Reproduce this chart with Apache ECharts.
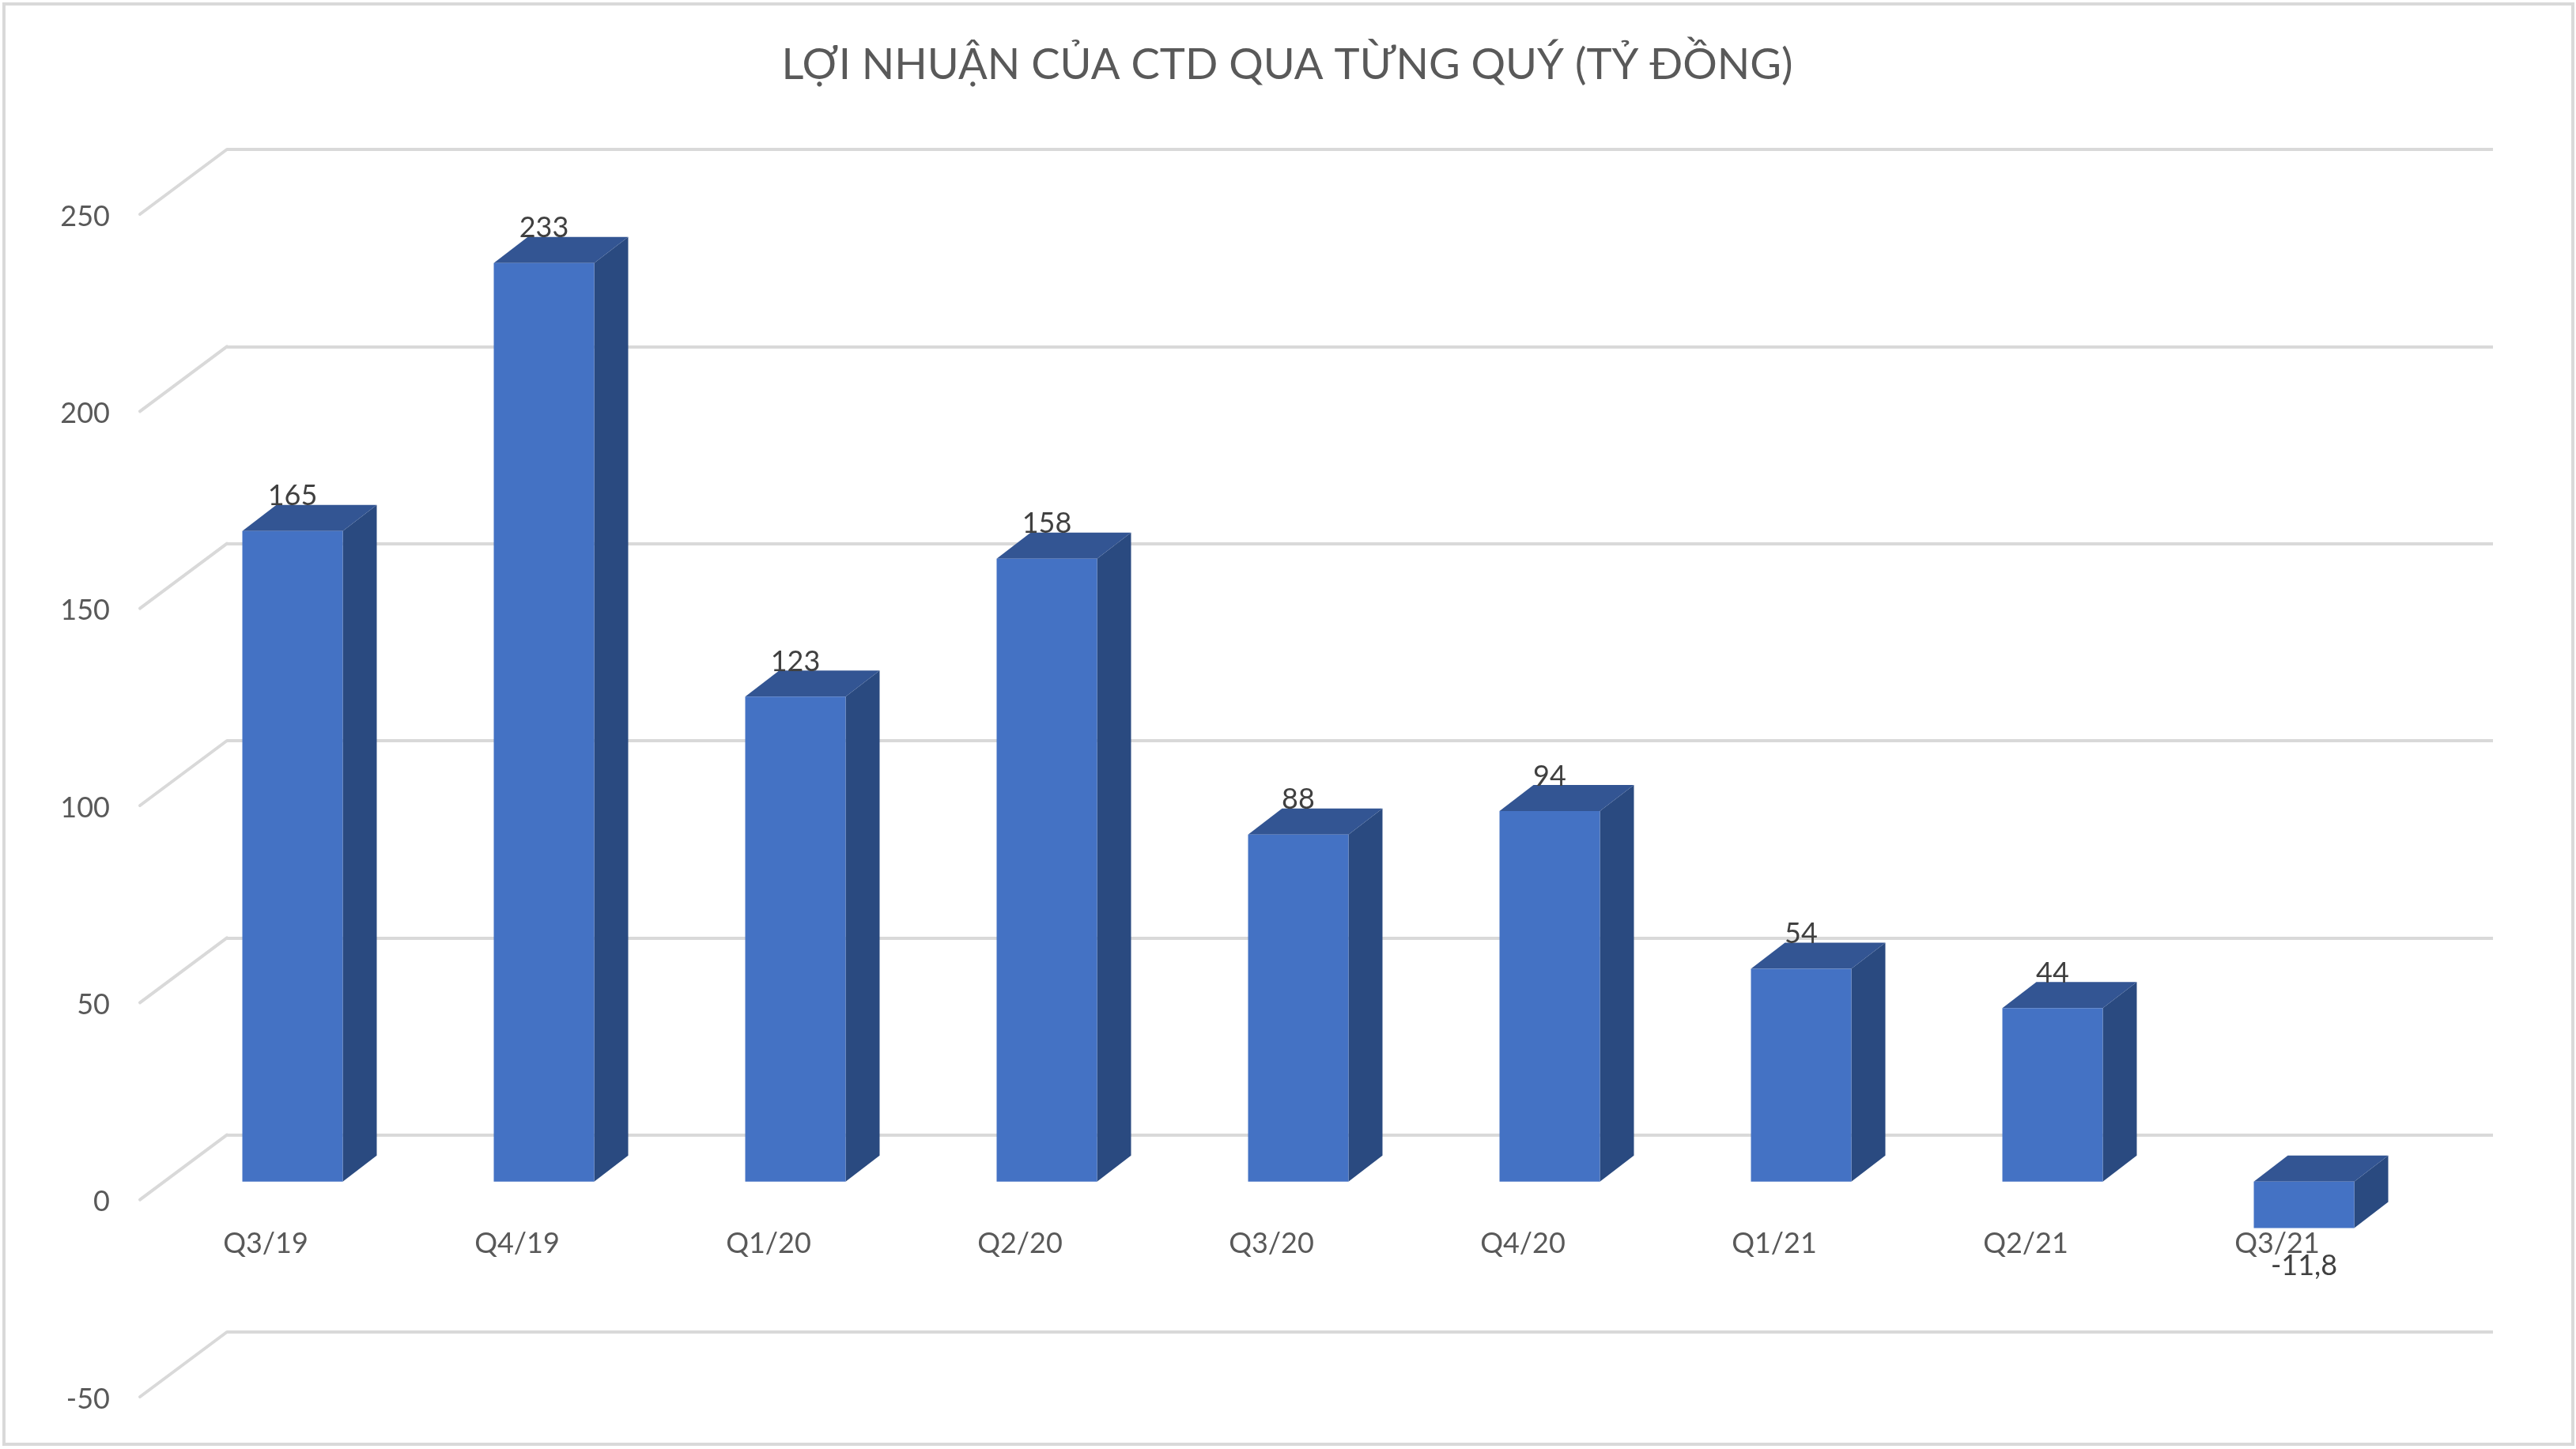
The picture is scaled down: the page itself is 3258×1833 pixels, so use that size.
<!DOCTYPE html>
<html>
<head>
<meta charset="utf-8">
<style>html,body{margin:0;padding:0;background:#fff}#c{width:3258px;height:1833px}</style>
<script src="https://cdn.jsdelivr.net/npm/echarts@6/dist/echarts.min.js"></script>
</head>
<body>
<div id="c"></div>
<script>
const categories = ['Q3/19','Q4/19','Q1/20','Q2/20','Q3/20','Q4/20','Q1/21','Q2/21','Q3/21'];
const profit = [165,233,123,158,88,94,54,44,-11.8];
const yTicks = [-50,0,50,100,150,200,250];
const titleText = 'LỢI NHUẬN CỦA CTD QUA TỪNG QUÝ (TỶ ĐỒNG)';

const FONT = 'Lato';
const WALL_DX = 110, WALL_DY = -82;      // front wall -> back wall
const BAR_DX = 34, BAR_DY = -23;         // front wall -> bar front face
const DEPTH_DX = 43, DEPTH_DY = -33;     // bar depth
const BAR_W = 127;
const GRID_LEFT = 177, GRID_W = 2862, BACK_W = 2866, GRID_TOP = 271, GRID_H = 1496;

const chart = echarts.init(document.getElementById('c'), null, {renderer:'canvas', width:3258, height:1833});

function renderBar(params, api){
  const idx = api.value(0), v = api.value(1);
  const p0 = api.coord([idx,0]), pv = api.coord([idx,v]);
  const cx = p0[0] + BAR_DX;
  const l = cx - BAR_W/2, r = cx + BAR_W/2;
  const top = Math.min(p0[1],pv[1]) + BAR_DY, bot = Math.max(p0[1],pv[1]) + BAR_DY;
  const dx = DEPTH_DX, dy = DEPTH_DY;
  const labelY = v >= 0 ? top - 44 : bot + 48;
  return {type:'group', children:[
    {type:'polygon', shape:{points:[[r,top],[r+dx,top+dy],[r+dx,bot+dy],[r,bot]]}, style:{fill:'#2A4A80'}},
    {type:'polygon', shape:{points:[[l,top],[l+dx,top+dy],[r+dx,top+dy],[r,top]]}, style:{fill:'#335593'}},
    {type:'rect', shape:{x:l,y:top,width:BAR_W,height:bot-top}, style:{fill:'#4472C4'}},
    {type:'text', z2:5, style:{x:cx,y:labelY,text:String(v).replace('.',','),fill:'#404040',
      font:'36px '+FONT,align:'center',verticalAlign:'middle'}}
  ]};
}
function renderDiag(params, api){
  const v = api.value(0);
  const x = params.coordSys.x, y = api.coord([0,v])[1];
  return {type:'line', shape:{x1:x,y1:y,x2:x+WALL_DX,y2:y+WALL_DY},
    style:{stroke:'#D9D9D9',lineWidth:4,lineCap:'round'}};
}

chart.setOption({
  animation:false,
  backgroundColor:'#fff',
  title:{text:titleText,left:1623,top:77,textAlign:'center',textVerticalAlign:'middle',
    textStyle:{fontFamily:FONT,fontSize:54.4,fontWeight:'normal',color:'#595959'}},
  graphic:[{type:'rect',silent:true,z:-1,shape:{x:5,y:5,width:3249,height:1822},
    style:{fill:'none',stroke:'#D9D9D9',lineWidth:4}}],
  grid:[
    {left:GRID_LEFT+WALL_DX,top:GRID_TOP+WALL_DY,width:BACK_W,height:GRID_H},
    {left:GRID_LEFT,top:GRID_TOP,width:GRID_W,height:GRID_H}
  ],
  xAxis:[
    {gridIndex:0,type:'category',data:categories,show:false},
    {gridIndex:1,type:'category',data:categories,position:'bottom',offset:-GRID_H/6,
      axisLine:{show:false,onZero:false},axisTick:{show:false},
      axisLabel:{margin:38,fontFamily:FONT,fontSize:36,color:'#595959',interval:0}}
  ],
  yAxis:[
    {gridIndex:0,type:'value',min:-50,max:250,interval:50,
      axisLabel:{show:false},axisLine:{show:false},axisTick:{show:false},
      splitLine:{show:true,lineStyle:{color:'#D9D9D9',width:4}}},
    {gridIndex:1,type:'value',min:-50,max:250,interval:50,
      axisLabel:{margin:38,fontFamily:FONT,fontSize:36,color:'#595959',verticalAlign:'top',lineHeight:6},
      axisLine:{show:false},axisTick:{show:false},splitLine:{show:false}}
  ],
  series:[
    {type:'custom',xAxisIndex:1,yAxisIndex:1,renderItem:renderDiag,data:yTicks.map(v=>[v]),
      encode:{y:0},clip:false,silent:true,z:1},
    {type:'custom',xAxisIndex:1,yAxisIndex:1,renderItem:renderBar,
      data:profit.map((v,i)=>[i,v]),encode:{x:0,y:1},clip:false,silent:true,z:3}
  ]
});
</script>
</body>
</html>
